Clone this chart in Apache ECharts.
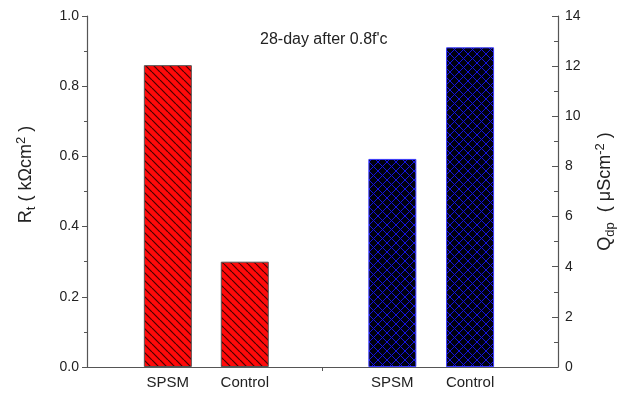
<!DOCTYPE html>
<html>
<head>
<meta charset="utf-8">
<script src="https://cdn.jsdelivr.net/npm/echarts@6/dist/echarts.min.js"></script>
<style>
  html, body { margin: 0; padding: 0; background: #fff; }
  #chart { width: 625px; height: 397px; }
</style>
</head>
<body>
<div id="chart"></div>
<script>
// bar labels and their positions along the x axis
const barNames = ['SPSM', 'Control', 'SPSM', 'Control'];
const barPos = [1.03, 2.01, 3.89, 4.88];
// R_t (left axis), Q_dp (right axis)
const rtValues = [0.86, 0.30];
const qdpValues = [8.30, 12.75];

// hatch fills
function makeHatch(size, bg, line, width, cross) {
  let c = document.createElement('canvas');
  c.width = size;
  c.height = size;
  let ctx = c.getContext('2d');
  ctx.fillStyle = bg;
  ctx.fillRect(0, 0, size, size);
  ctx.strokeStyle = line;
  ctx.lineWidth = width;
  for (let k = -1; k <= 1; k++) {
    ctx.beginPath();
    ctx.moveTo(k * size, 0);
    ctx.lineTo(k * size + size, size);
    ctx.stroke();
    if (cross) {
      ctx.beginPath();
      ctx.moveTo(k * size + size, 0);
      ctx.lineTo(k * size, size);
      ctx.stroke();
    }
  }
  return { image: c, repeat: 'repeat' };
}

let chart = echarts.init(document.getElementById('chart'));
let font = 'Liberation Sans, Arial, sans-serif';
let axisCol = '#555';

let option = {
  animation: false,
  title: {
    text: "28-day after 0.8f'c",
    left: 255,
    top: 27,
    textStyle: { fontSize: 16, fontWeight: 'normal', color: '#222', fontFamily: font }
  },
  grid: { left: 87, right: 64, top: 16, bottom: 30 },
  xAxis: {
    type: 'value',
    min: 0,
    max: 6,
    splitLine: { show: false },
    axisLine: { lineStyle: { color: axisCol, width: 1.2 } },
    axisTick: { customValues: [3], length: 4, lineStyle: { color: axisCol } },
    axisLabel: {
      customValues: barPos,
      margin: 8,
      fontSize: 15,
      color: '#222',
      fontFamily: font,
      formatter: function (v) {
        let i = barPos.indexOf(v);
        return i >= 0 ? barNames[i] : '';
      }
    }
  },
  yAxis: [
    {
      type: 'value',
      min: 0,
      max: 1,
      interval: 0.2,
      position: 'left',
      splitLine: { show: false },
      axisLine: { show: true, lineStyle: { color: axisCol, width: 1.2 } },
      axisTick: { show: true, length: 5, lineStyle: { color: axisCol } },
      minorTick: { show: true, splitNumber: 2, length: 3, lineStyle: { color: axisCol } },
      axisLabel: {
        margin: 8,
        fontSize: 14,
        color: '#222',
        fontFamily: font,
        formatter: v => v.toFixed(1)
      },
      name: '{n|R}{sub|t}{n| ( kΩcm}{sup|2}{n| )}',
      nameLocation: 'middle',
      nameRotate: 90,
      nameGap: 49,
      nameTextStyle: {
        padding: [0, 0, 0, 34],
        fontFamily: font,
        color: '#222',
        rich: {
          n: { fontSize: 18, fontFamily: font, color: '#222' },
          sub: { fontSize: 13, fontFamily: font, color: '#222', verticalAlign: 'bottom', padding: [10, 0, 0, 0] },
          sup: { fontSize: 13, fontFamily: font, color: '#222', verticalAlign: 'top', padding: [0, 0, 10, 0] }
        }
      }
    },
    {
      type: 'value',
      min: 0,
      max: 14,
      interval: 2,
      position: 'right',
      splitLine: { show: false },
      axisLine: { show: true, lineStyle: { color: axisCol, width: 1.2 } },
      axisTick: { show: true, inside: true, length: 6, lineStyle: { color: axisCol } },
      minorTick: { show: true, splitNumber: 2, length: 4, lineStyle: { color: axisCol } },
      axisLabel: {
        margin: 7,
        fontSize: 14,
        color: '#222',
        fontFamily: font
      },
      name: '{n|Q}{sub|dp}{n|  ( μScm}{sup|-2}{n| )}',
      nameLocation: 'middle',
      nameRotate: 90,
      nameGap: 36,
      nameTextStyle: {
        fontFamily: font,
        color: '#222',
        rich: {
          n: { fontSize: 18, fontFamily: font, color: '#222' },
          sub: { fontSize: 13, fontFamily: font, color: '#222', verticalAlign: 'bottom', padding: [10, 0, 0, 0] },
          sup: { fontSize: 13, fontFamily: font, color: '#222', verticalAlign: 'top', padding: [0, 0, 10, 0] }
        }
      }
    }
  ],
  series: [
    {
      name: 'Rt',
      type: 'bar',
      yAxisIndex: 0,
      barWidth: 48,
      barGap: '-100%',
      data: rtValues.map((v, i) => [barPos[i], v]),
      itemStyle: {
        color: makeHatch(8, '#ff0a0a', '#4a0000', 1.2, false),
        borderColor: '#555',
        borderWidth: 1
      }
    },
    {
      name: 'Qdp',
      type: 'bar',
      yAxisIndex: 1,
      barWidth: 48,
      barGap: '-100%',
      data: qdpValues.map((v, i) => [barPos[i + 2], v]),
      itemStyle: {
        color: makeHatch(9, '#000010', '#1414e0', 1, true),
        borderColor: '#3a3aff',
        borderWidth: 1
      }
    }
  ]
};
chart.setOption(option);
</script>
</body>
</html>
